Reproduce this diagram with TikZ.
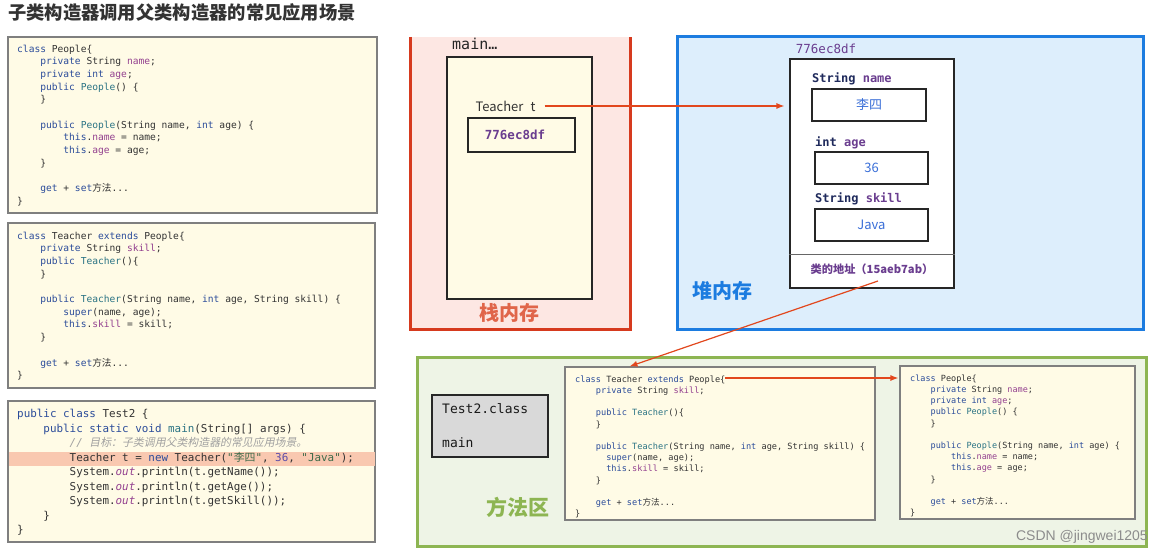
\documentclass[tikz,border=0pt]{standalone}
\usepackage{fontspec}
\setmonofont{DejaVu Sans Mono}
\setsansfont{Noto Sans}
\newfontfamily\cjk{Noto Sans CJK SC}
\newfontfamily\cjkit{Noto Sans CJK SC}[FakeSlant=0.2]
\newfontfamily\wm{Liberation Sans}
\usetikzlibrary{arrows.meta,calc}
\definecolor{txt}{HTML}{333333}
\definecolor{kwc}{HTML}{2B4C9A}
\definecolor{fdc}{HTML}{93408F}
\definecolor{mtc}{HTML}{2A7384}
\definecolor{stc}{HTML}{3E6B4A}
\definecolor{nmc}{HTML}{5B4CA8}
\definecolor{cmc}{HTML}{A0A0A0}
\definecolor{cream}{HTML}{FFFBE6}
\definecolor{codeborder}{HTML}{7F7F7F}
\definecolor{stackfill}{HTML}{FDE7E3}
\definecolor{stackred}{HTML}{D63A1E}
\definecolor{stacktxt}{HTML}{E0654A}
\definecolor{heapfill}{HTML}{DDEEFC}
\definecolor{heapblue}{HTML}{1C7CE0}
\definecolor{methfill}{HTML}{EEF4E6}
\definecolor{methgreen}{HTML}{8DB552}
\definecolor{grayfill}{HTML}{D9D9D9}
\definecolor{hilite}{HTML}{F9C8B0}
\definecolor{arrowred}{HTML}{E2471D}
\definecolor{purp}{HTML}{6A3D8F}
\definecolor{navy}{HTML}{1F2A5C}
\definecolor{valblue}{HTML}{3A6FD8}
\newcommand\KW[1]{\textcolor{kwc}{#1}}
\newcommand\FD[1]{\textcolor{fdc}{#1}}
\newcommand\MT[1]{\textcolor{mtc}{#1}}
\newcommand\STR[1]{\textcolor{stc}{#1}}
\newcommand\NUM[1]{\textcolor{nmc}{#1}}
\newcommand\ind[1]{\hspace*{#1\fontcharwd\font`\0}}
\tikzset{
  codebox/.style={draw=codeborder, line width=1.1pt, fill=cream, inner sep=0pt},
  codetext/.style={anchor=north west, align=left, inner sep=0pt, text=txt},
  valbox/.style={draw=black!85, line width=1.1pt, fill=white, inner sep=0pt, minimum height=32pt},
  fieldlbl/.style={anchor=west, inner sep=0pt, font=\fontsize{12}{14}\selectfont\ttfamily\bfseries},
  link/.style={draw=arrowred, line width=1.2pt, -{Latex[length=8pt,width=6pt]}},
  areatitle/.style={inner sep=0pt, font=\fontsize{20}{24}\selectfont\cjk\bfseries}
}
\begin{document}
\begin{tikzpicture}[x=1pt,y=-1pt]
\useasboundingbox[fill=white] (0,0) rectangle (1164,556);

% title
\node[anchor=west, inner sep=0pt, text=txt, font=\fontsize{18.3}{21}\selectfont\cjk\bfseries] (title) at (8,13) {子类构造器调用父类构造器的常见应用场景};

% ---------- left code boxes ----------
\node[codebox, minimum width=369pt, minimum height=176pt] (b1) at (192.5,125) {};
\node[codetext, font=\fontsize{9.6}{12.7}\selectfont\ttfamily] (b1t) at (17,44.5) {%
\KW{class} People\{\\
\ind4\KW{private} String \FD{name};\\
\ind4\KW{private} \KW{int} \FD{age};\\
\ind4\KW{public} \MT{People}() \{\\
\ind4\}\\
\mbox{}\\
\ind4\KW{public} \MT{People}(String name, \KW{int} age) \{\\
\ind8\KW{this}.\FD{name} = name;\\
\ind8\KW{this}.\FD{age} = age;\\
\ind4\}\\
\mbox{}\\
\ind4\KW{get} + \KW{set}{\cjk 方法}...\\
\}};

\node[codebox, minimum width=367pt, minimum height=165pt] (b2) at (191.5,305.5) {};
\node[codetext, font=\fontsize{9.6}{12.7}\selectfont\ttfamily] (b2t) at (17,231.5) {%
\KW{class} Teacher \KW{extends} People\{\\
\ind4\KW{private} String \FD{skill};\\
\ind4\KW{public} \MT{Teacher}()\{\\
\ind4\}\\
\mbox{}\\
\ind4\KW{public} \MT{Teacher}(String name, \KW{int} age, String skill) \{\\
\ind8\KW{super}(name, age);\\
\ind8\KW{this}.\FD{skill} = skill;\\
\ind4\}\\
\mbox{}\\
\ind4\KW{get} + \KW{set}{\cjk 方法}...\\
\}};

\node[codebox, minimum width=367pt, minimum height=141pt] (b3) at (191.5,471.5) {};
\node[fill=hilite, inner sep=0pt, minimum width=366pt, minimum height=14pt] (hl) at (191.5,459) {};
\node[codetext, font=\fontsize{10.9}{14.5}\selectfont\ttfamily] (b3t) at (17,409) {%
\KW{public} \KW{class} Test2 \{\\
\ind4\KW{public} \KW{static} \KW{void} \MT{main}(String[] args) \{\\
\ind8\textcolor{cmc}{\itshape // {\cjkit 目标：子类调用父类构造器的常见应用场景。}}\\
\ind8Teacher t = \KW{new} Teacher(\STR{"{\cjk 李四}"}, \NUM{36}, \STR{"Java"});\\
\ind8System.\FD{\itshape out}.println(t.getName());\\
\ind8System.\FD{\itshape out}.println(t.getAge());\\
\ind8System.\FD{\itshape out}.println(t.getSkill());\\
\ind4\}\\
\}};

% ---------- stack ----------
\node[fill=stackfill, inner sep=0pt, minimum width=219pt, minimum height=292pt] (stack) at (520.5,183) {};
\draw[stackred, line width=3pt] (stack.north west) -- (stack.south west) -- (stack.south east) -- (stack.north east);
\node[anchor=west, inner sep=0pt, text=black!85, font=\fontsize{15}{18}\selectfont\ttfamily] (mainlbl) at (452,44) {main…};
\node[draw=black!85, line width=1.1pt, fill=cream, inner sep=0pt, minimum width=145pt, minimum height=242pt] (frame) at (519.5,178) {};
\node[inner sep=0pt, text=txt, font=\fontsize{13}{15}\selectfont\cjk] (tt) at (505.5,106) {Teacher\hspace{0.55em}t};
\node[draw=black!85, line width=1.1pt, fill=cream, inner sep=0pt, minimum width=107pt, minimum height=34pt] (tref) at (521.5,135) {};
\node[inner sep=0pt, text=purp, font=\fontsize{12.5}{15}\selectfont\ttfamily\bfseries] (trefv) at (515,135) {776ec8df};
\node[areatitle, text=stacktxt] (stacklbl) at (509,313) {栈内存};

% ---------- heap ----------
\node[draw=heapblue, line width=3pt, fill=heapfill, inner sep=0pt, minimum width=466pt, minimum height=292pt] (heap) at (910,183) {};
\node[inner sep=0pt, text=purp, font=\fontsize{12.5}{15}\selectfont\ttfamily] (objaddr) at (826,49) {776ec8df};
\node[draw=black!85, line width=1.1pt, fill=white, inner sep=0pt, minimum width=164pt, minimum height=229pt] (obj) at (872,173.5) {};
\draw[draw=black!60, line width=1pt] (obj.west |- 0,254) -- (obj.east |- 0,254);
\node[fieldlbl] (lname) at (812,79) {\textcolor{navy}{String} \textcolor{purp}{name}};
\node[valbox, minimum width=114pt] (vname) at (869,105) {\fontsize{13}{15}\selectfont\cjk\textcolor{valblue}{李四}};
\node[fieldlbl] (lage) at (815,143) {\textcolor{navy}{int} \textcolor{purp}{age}};
\node[valbox, minimum width=113pt] (vage) at (871.5,168) {\fontsize{13}{15}\selectfont\cjk\textcolor{valblue}{36}};
\node[fieldlbl] (lskill) at (815,199) {\textcolor{navy}{String} \textcolor{purp}{skill}};
\node[valbox, minimum width=113pt] (vskill) at (871.5,225) {\fontsize{13}{15}\selectfont\cjk\textcolor{valblue}{Java}};
\node[inner sep=0pt, text=purp, font=\fontsize{11.2}{13}\selectfont\cjk\bfseries] (classaddr) at (872,269) {类的地址（15aeb7ab）};
\node[areatitle, text=heapblue] (heaplbl) at (722,291) {堆内存};

% ---------- method area ----------
\node[draw=methgreen, line width=3pt, fill=methfill, inner sep=0pt, minimum width=729pt, minimum height=189pt] (meth) at (781.5,451.5) {};
\node[draw=black!85, line width=1.1pt, fill=grayfill, inner sep=0pt, minimum width=116pt, minimum height=62pt] (t2) at (490,426) {};
\node[anchor=west, inner sep=0pt, text=black!90, font=\fontsize{13}{15}\selectfont\ttfamily] (t2a) at (442,409) {Test2.class};
\node[anchor=west, inner sep=0pt, text=black!90, font=\fontsize{13}{15}\selectfont\ttfamily] (t2b) at (442,443) {main};
\node[areatitle, text=methgreen, font=\fontsize{21}{24}\selectfont\cjk\bfseries] (methlbl) at (518,507) {方法区};

\node[codebox, minimum width=310pt, minimum height=153pt] (tcode) at (720,443.5) {};
\node[codetext, font=\fontsize{8.6}{11.2}\selectfont\ttfamily] (tcodet) at (575,375.5) {%
\KW{class} Teacher \KW{extends} People\{\\
\ind4\KW{private} String \FD{skill};\\
\mbox{}\\
\ind4\KW{public} \MT{Teacher}()\{\\
\ind4\}\\
\mbox{}\\
\ind4\KW{public} \MT{Teacher}(String name, \KW{int} age, String skill) \{\\
\ind6\KW{super}(name, age);\\
\ind6\KW{this}.\FD{skill} = skill;\\
\ind4\}\\
\mbox{}\\
\ind4\KW{get} + \KW{set}{\cjk 方法}...\\
\}};

\node[codebox, minimum width=235pt, minimum height=153pt] (pcode) at (1017.5,442.5) {};
\node[codetext, font=\fontsize{8.5}{11.2}\selectfont\ttfamily] (pcodet) at (910,374.5) {%
\KW{class} People\{\\
\ind4\KW{private} String \FD{name};\\
\ind4\KW{private} \KW{int} \FD{age};\\
\ind4\KW{public} \MT{People}() \{\\
\ind4\}\\
\mbox{}\\
\ind4\KW{public} \MT{People}(String name, \KW{int} age) \{\\
\ind8\KW{this}.\FD{name} = name;\\
\ind8\KW{this}.\FD{age} = age;\\
\ind4\}\\
\mbox{}\\
\ind4\KW{get} + \KW{set}{\cjk 方法}...\\
\}};

% ---------- connectors ----------
\coordinate (a2s) at (878,281);
\coordinate (a3s) at (725,378);
\draw[link, shorten <=9pt, shorten >=5pt] (tt.east) -- (obj.west |- tt.east);
\draw[link] (a2s) -- ($(tcode.north west)+(65,0)$);
\draw[link, shorten >=1pt] (a3s) -- (pcode.west |- a3s);

% watermark
\node[anchor=east, inner sep=0pt, text=black!45, font=\fontsize{14}{16}\selectfont\wm] (wmark) at (1148,537) {CSDN @jingwei1205};
\end{tikzpicture}
\end{document}
